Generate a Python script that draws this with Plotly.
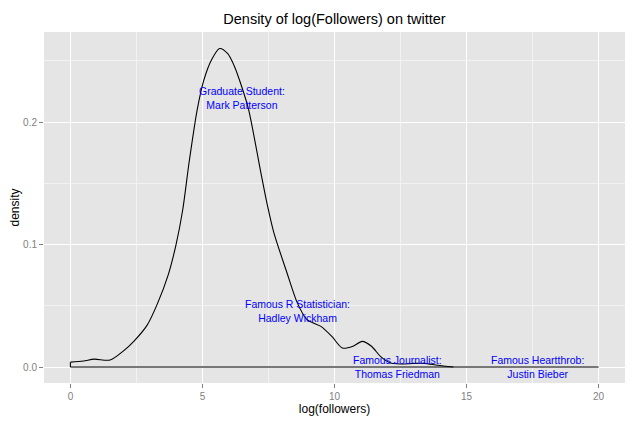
import plotly.graph_objects as go

# densité estimée
log_followers = [0, 0.5, 0.9, 1.5, 2.0, 2.4, 2.9, 3.3, 3.7, 4.0, 4.25, 4.5, 4.8, 5.05,
                 5.35, 5.65, 5.95, 6.2, 6.5, 6.75, 7.2, 7.45, 7.7, 8.2, 8.6, 8.95, 9.2,
                 9.5, 9.9, 10.3, 10.7, 11.05, 11.4, 11.75, 12.1, 12.5, 13.0, 13.4, 13.9, 14.5]
densite = [0.004, 0.005, 0.0065, 0.0057, 0.013, 0.021, 0.034, 0.052, 0.075, 0.1, 0.128,
           0.168, 0.21, 0.234, 0.251, 0.26, 0.256, 0.246, 0.228, 0.21, 0.16, 0.133, 0.11,
           0.077, 0.052, 0.039, 0.036, 0.033, 0.025, 0.0155, 0.017, 0.021, 0.017, 0.0085,
           0.0035, 0.0025, 0.003, 0.003, 0.0015, 0.0]
baseline_x = [0, 20]

# étiquettes des personnes
labels = ['Graduate Student:<br>Mark Patterson',
          'Famous R Statistician:<br>Hadley Wickham',
          'Famous Journalist:<br>Thomas Friedman',
          'Famous Heartthrob:<br>Justin Bieber']
label_x = [6.5, 8.6, 12.4, 17.7]
label_y = [0.22, 0.046, 0.0, 0.0]

fig = go.Figure()

fig.add_trace(go.Scatter(x=baseline_x, y=[0, 0], mode='lines',
                         line=dict(color='#777777', width=2), hoverinfo='skip'))
fig.add_trace(go.Scatter(x=[log_followers[0], log_followers[0]], y=[0, densite[0]],
                         mode='lines', line=dict(color='black', width=1.1)))
fig.add_trace(go.Scatter(x=log_followers, y=densite, mode='lines',
                         line=dict(color='black', width=1.1, shape='spline', smoothing=0.8)))

for t, x, y in zip(labels, label_x, label_y):
    fig.add_annotation(x=x, y=y, text=t, showarrow=False,
                       font=dict(family='Liberation Sans, Arial', size=10.5, color='#0000FF'))

# la page a une marge de 8 px autour de la figure
fig.update_layout(
    width=632, height=413,
    showlegend=False,
    paper_bgcolor='white', plot_bgcolor='#E5E5E5',
    margin=dict(l=36, r=15, t=24, b=38),
    font=dict(family='Liberation Sans, Arial', color='black'),
    title=dict(text='Density of log(Followers) on twitter', xref='paper', x=0.5,
               xanchor='center', yref='container', y=1 - 11 / 413, yanchor='middle',
               font=dict(size=14.5)),
)
fig.update_xaxes(range=[-1, 21], tickvals=[0, 5, 10, 15, 20], showgrid=True,
                 gridcolor='white', gridwidth=1.2, zeroline=False,
                 ticks='outside', ticklen=4, tickcolor='#7F7F7F',
                 tickfont=dict(size=10, color='#7F7F7F'),
                 minor=dict(dtick=2.5, tick0=0, showgrid=True, gridcolor='#F2F2F2', gridwidth=0.6),
                 title=dict(text='log(followers)', font=dict(size=12), standoff=3),
                 automargin=False)
fig.update_yaxes(range=[-0.013, 0.2735], tickvals=[0.0, 0.1, 0.2], ticktext=['0.0', '0.1', '0.2'],
                 showgrid=True, gridcolor='white', gridwidth=1.2, zeroline=False,
                 ticks='outside', ticklen=4, tickcolor='#7F7F7F',
                 tickfont=dict(size=10, color='#7F7F7F'),
                 minor=dict(dtick=0.05, tick0=0, showgrid=True, gridcolor='#F2F2F2', gridwidth=0.6),
                 title=dict(text='density', font=dict(size=12), standoff=6),
                 automargin=False)

fig.write_html('out.html')
print('out.html généré')
